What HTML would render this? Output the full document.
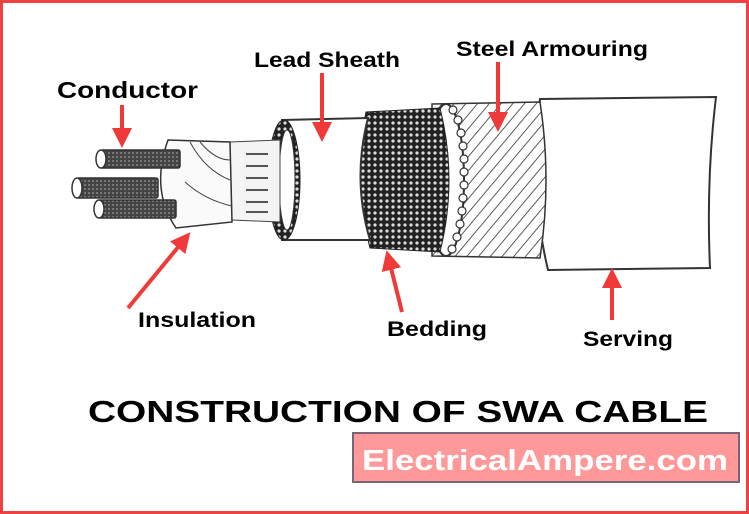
<!DOCTYPE html>
<html><head><meta charset="utf-8"><style>
body{margin:0;width:749px;height:514px;overflow:hidden;background:#fff}
svg{display:block}
text{font-family:"Liberation Sans",Arial,sans-serif;font-weight:bold}
</style></head><body>
<svg width="749" height="514" viewBox="0 0 749 514" xmlns="http://www.w3.org/2000/svg">
<defs>
<pattern id="mesh" width="6" height="6" patternUnits="userSpaceOnUse">
<rect width="6" height="6" fill="#222"/><circle cx="3" cy="3" r="1.6" fill="#ddd"/></pattern>
<pattern id="hatch" width="9" height="9" patternUnits="userSpaceOnUse" patternTransform="rotate(40)">
<rect width="9" height="9" fill="#fff"/><line x1="0" y1="0" x2="0" y2="9" stroke="#333" stroke-width="1.6"/></pattern>
<pattern id="cond" width="4" height="4" patternUnits="userSpaceOnUse">
<rect width="4" height="4" fill="#444"/><rect width="2" height="2" fill="#777"/></pattern>
<marker id="ah" markerWidth="5" markerHeight="5" refX="2.5" refY="2.5" orient="auto"><path d="M0,0 L5,2.5 L0,5 z" fill="#f03a3a"/></marker>
</defs>
<rect x="1.5" y="1.5" width="746" height="511" fill="#fff" stroke="#f04040" stroke-width="3"/>
<path d="M540,99 L716,97 Q706,180 710,268 L548,270 Q528,185 540,99 Z" fill="#fff" stroke="#333" stroke-width="2"/>
<path d="M432,104 L540,102 Q552,180 540,258 L432,256 Z" fill="url(#hatch)" stroke="#333" stroke-width="1.5"/>
<ellipse cx="446" cy="180" rx="18" ry="76" fill="#fff" stroke="#333" stroke-width="2"/>
<g fill="#fff" stroke="#333" stroke-width="1.2">
<circle cx="458" cy="120" r="4"/><circle cx="461" cy="133" r="4"/><circle cx="463" cy="146" r="4"/><circle cx="464" cy="159" r="4"/><circle cx="464" cy="172" r="4"/><circle cx="464" cy="185" r="4"/><circle cx="463" cy="198" r="4"/><circle cx="462" cy="211" r="4"/><circle cx="460" cy="224" r="4"/><circle cx="457" cy="237" r="4"/><circle cx="452" cy="249" r="4"/><circle cx="453" cy="110" r="4"/>
</g>
<path d="M366,112 L440,108 Q458,180 440,252 L370,248 Q352,180 366,112 Z" fill="url(#mesh)" stroke="#222"/>
<path d="M282,120 L368,118 Q352,180 370,240 L282,240 Z" fill="#fff" stroke="#333" stroke-width="2"/>
<ellipse cx="284" cy="180" rx="16" ry="60" fill="url(#mesh)" stroke="#222"/>
<ellipse cx="287" cy="180" rx="8" ry="50" fill="#fff" stroke="#333"/>
<path d="M230,142 L280,140 L280,222 L232,220 Z" fill="#f4f4f4" stroke="#444"/>
<g stroke="#555" stroke-width="2"><line x1="246" y1="154" x2="268" y2="154"/><line x1="246" y1="166" x2="268" y2="166"/><line x1="246" y1="178" x2="268" y2="178"/><line x1="246" y1="190" x2="268" y2="190"/><line x1="246" y1="202" x2="268" y2="202"/><line x1="246" y1="212" x2="268" y2="212"/></g>
<path d="M168,140 L230,142 L232,222 L176,228 Q150,190 168,140 Z" fill="#fafafa" stroke="#333" stroke-width="1.5"/>
<path d="M190,142 Q205,170 230,180 M185,182 Q205,200 232,206 M200,142 Q215,160 230,160" stroke="#444" fill="none"/>
<g stroke="#333" stroke-width="1.5">
<rect x="100" y="150" width="80" height="18" rx="2" fill="url(#cond)"/><ellipse cx="101" cy="159" rx="5" ry="9" fill="#fff"/>
<rect x="76" y="178" width="82" height="20" rx="2" fill="url(#cond)"/><ellipse cx="77" cy="188" rx="5" ry="10" fill="#fff"/>
<rect x="98" y="200" width="78" height="18" rx="2" fill="url(#cond)"/><ellipse cx="99" cy="209" rx="5" ry="9" fill="#fff"/>
</g>
<g stroke="#f03a3a" stroke-width="4" marker-end="url(#ah)">
<line x1="122" y1="105" x2="122" y2="138"/>
<line x1="322" y1="73" x2="322" y2="132"/>
<line x1="498" y1="62" x2="498" y2="122"/>
<line x1="128" y1="308" x2="184" y2="240"/>
<line x1="402" y1="312" x2="389" y2="260"/>
<line x1="612" y1="320" x2="612" y2="278"/>
</g>
<text x="57" y="98" font-size="23" textLength="141" lengthAdjust="spacingAndGlyphs">Conductor</text>
<text x="254" y="67" font-size="21" textLength="146" lengthAdjust="spacingAndGlyphs">Lead Sheath</text>
<text x="456" y="56" font-size="21" textLength="192" lengthAdjust="spacingAndGlyphs">Steel Armouring</text>
<text x="138" y="327" font-size="21" textLength="118" lengthAdjust="spacingAndGlyphs">Insulation</text>
<text x="387" y="336" font-size="21" textLength="100" lengthAdjust="spacingAndGlyphs">Bedding</text>
<text x="583" y="346" font-size="21" textLength="90" lengthAdjust="spacingAndGlyphs">Serving</text>
<text x="88" y="422" font-size="31" textLength="620" lengthAdjust="spacingAndGlyphs">CONSTRUCTION OF SWA CABLE</text>
<rect x="353" y="433" width="386" height="49" fill="#ff9999" stroke="#776677" stroke-width="2"/>
<text x="362" y="470" font-size="29" fill="#fff" textLength="366" lengthAdjust="spacingAndGlyphs">ElectricalAmpere.com</text>
</svg>
</body></html>
